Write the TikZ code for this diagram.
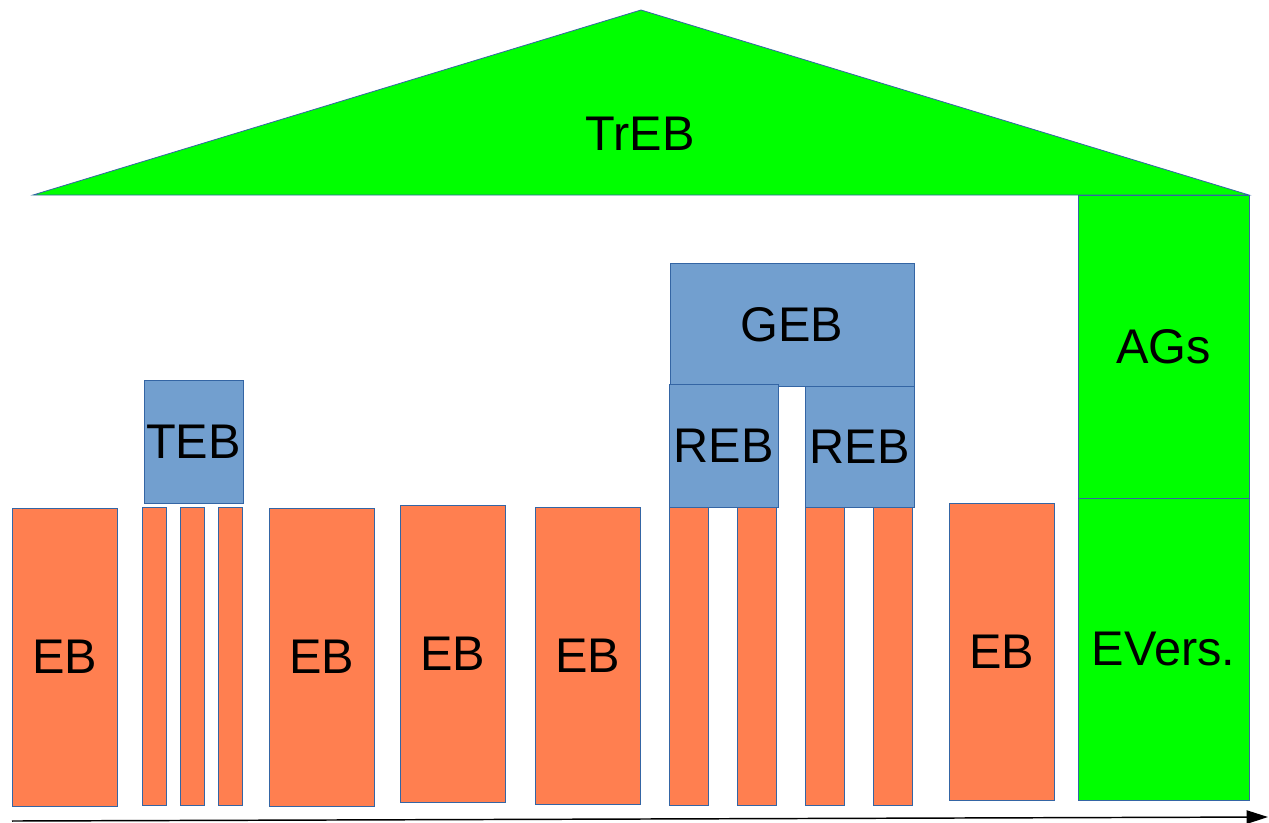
\documentclass[tikz,border=0pt]{standalone}
\usepackage{fontspec}
\setmainfont{Liberation Sans}
\usetikzlibrary{arrows.meta}
\definecolor{edgeblue}{HTML}{3465A4}
\definecolor{boxblue}{HTML}{729FCF}
\definecolor{boxorange}{HTML}{FF7F50}
\definecolor{boxgreen}{HTML}{00FF00}
\tikzset{
  lbl/.style={font=\fontsize{36.5}{42}\selectfont, text=black},
  base/.style={draw=edgeblue, line width=0.6pt, inner sep=0pt, outer sep=0pt, lbl},
  eb/.style={base, fill=boxorange},
  bb/.style={base, fill=boxblue},
  gb/.style={base, fill=boxgreen},
}
% box from (x1,y1) to (x2,y2) in pixel coordinates
\newcommand{\pbox}[7]{%
  \node[#1, minimum width={(#5-#3)*0.75pt}, minimum height={(#6-#4)*0.75pt}]
    (#2) at ({(#3+#5)/2},{(#4+#6)/2}) {#7};}
\begin{document}
\begin{tikzpicture}[x=0.75pt,y=-0.75pt]
\useasboundingbox (0,0) rectangle (1269,822);
% roof
\draw[gb] (33,195) -- (641,10) -- (1249,195) -- cycle;
\node[lbl] (treb) at (640,134) {TrEB};
% right column
\pbox{gb}{ags}{1078}{195}{1249}{498}{AGs}
\pbox{gb}{evers}{1078}{498}{1249}{800}{EVers.}
% orange bars
\pbox{eb}{eb1}{12}{508}{117}{806}{EB}
\pbox{eb}{t1}{142}{507}{166}{805}{}
\pbox{eb}{t2}{180}{507}{204}{805}{}
\pbox{eb}{t3}{218}{507}{242}{805}{}
\pbox{eb}{eb2}{269}{508}{374}{806}{EB}
\pbox{eb}{eb3}{400}{505}{505}{802}{EB}
\pbox{eb}{eb4}{535}{507}{640}{804}{EB}
\pbox{eb}{r1}{669}{507}{708}{805}{}
\pbox{eb}{r2}{737}{507}{776}{805}{}
\pbox{eb}{r3}{805}{507}{844}{805}{}
\pbox{eb}{r4}{873}{507}{912}{805}{}
\pbox{eb}{eb5}{949}{503}{1054}{800}{EB}
% blue boxes
\pbox{bb}{teb}{144}{380}{243}{503}{TEB}
\pbox{bb}{geb}{670}{263}{914}{386}{}
\node[lbl] at (792,325) {GEB};
\pbox{bb}{reb1}{669}{384}{778}{507}{REB}
\pbox{bb}{reb2}{805}{386}{914}{507}{REB}
% time axis
\coordinate (axs) at (12,821);
\coordinate (axe) at (1268,817);
\draw[line width=1.1pt, draw=black, -{Triangle[length=16pt,width=10pt]}] (axs) -- (axe);
\end{tikzpicture}
\end{document}
